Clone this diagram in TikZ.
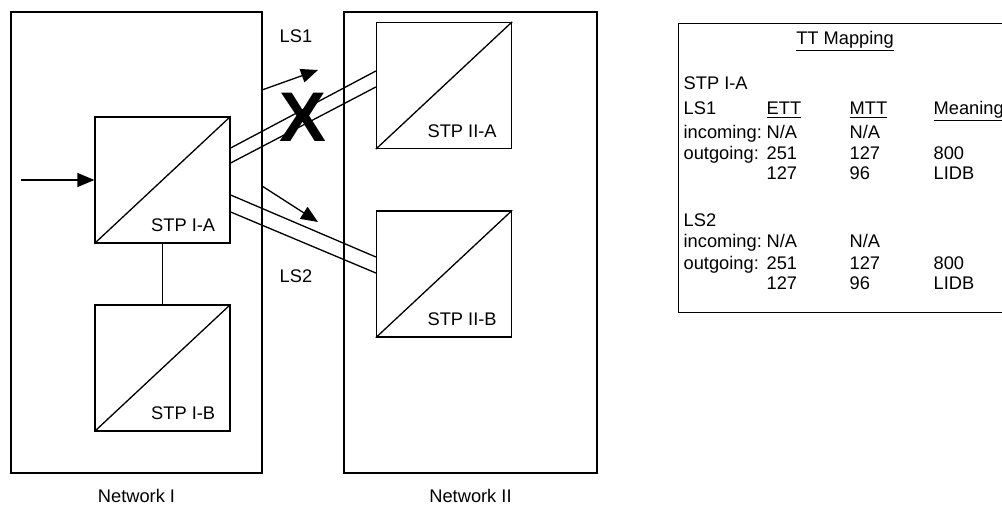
\documentclass[tikz,border=0pt]{standalone}
\usepackage{fontspec}
\setmainfont{Liberation Sans}
\usetikzlibrary{calc,arrows.meta}
\tikzset{
  stpbox/.style={draw,minimum width=2.7cm,minimum height=2.52cm,inner sep=0pt},
  netbox/.style={draw,minimum height=9.22cm,inner sep=0pt},
  tip/.style={-{Triangle[length=0.34cm,width=0.28cm]}}
}
\newcommand{\stp}[4]% #1=node name, #2=x, #3=y, #4=text
{\node[stpbox] (#1) at (#2,#3) {};
\draw (#1.south west)--(#1.north east);
\node[anchor=base east] (#1-text) at ($(#1.south east)+(-9,-12)$) {#4};}

\begin{document}
\begin{tikzpicture}[x=0.02cm,y=-0.02cm,line width=0.75pt,font=\fontsize{10.4}{12}\selectfont]
        \useasboundingbox (0,0) rectangle (1002,506);
        \clip (0,0) rectangle (1002,506);
        % networks
        \node[netbox,minimum width=5.02cm,label={[inner sep=0.5pt,label distance=0.28cm]below:Network I}] (netI) at (136.5,242.5) {};
        \node[netbox,minimum width=5.06cm,label={[inner sep=0.5pt,label distance=0.28cm]below:Network II}] (netII) at (470.5,242.5) {};
        % STPs
        \stp{stpIA}{162.5}{180}{STP I-A}
        \stp{stpIB}{162.5}{368}{STP I-B}
        \stp{stpIIA}{444}{85.5}{STP II-A}
        \stp{stpIIB}{444}{274}{STP II-B}
        \draw (stpIA)--(stpIB);
        \coordinate (in) at (21,180);
        \draw[tip] (in)--(stpIA.west);
        % link sets
        \draw ($(stpIA.east)+(0,-32)$)--($(stpIIA.west)+(0,-14.5)$);
        \draw ($(stpIA.east)+(0,-17)$)--($(stpIIA.west)+(0,1.5)$);
        \draw ($(stpIA.east)+(0,15)$)--($(stpIIB.west)+(0,-17)$);
        \draw ($(stpIA.east)+(0,32)$)--($(stpIIB.west)+(0,-1)$);
        \coordinate (ls1a) at (262,90);
        \coordinate (ls1b) at (318,70);
        \coordinate (ls2a) at (262,186);
        \coordinate (ls2b) at (318,222);
        \draw[tip] (ls1a)--(ls1b);
        \draw[tip] (ls2a)--(ls2b);
        \node (ls1) at (296,36) {LS1};
        \node (ls2) at (296,276) {LS2};
        \node[font=\fontsize{40}{40}\selectfont\bfseries] (cross) at (303,117) {X};
        % mapping table
        \node[draw,anchor=north west,minimum width=6.68cm,minimum height=5.78cm] (ttmap) at (678,23) {};
        \node[anchor=base] (tthead) at (845,44.5) {\underline{TT Mapping}};
        \foreach \y/\a/\b/\c/\d [count=\i] in {89.5/STP I-A///,
            114.5/LS1/\underline{ETT}/\underline{MTT}/\underline{Meaning},
            138.5/incoming:/N\slash A/N\slash A/,
            159.5/outgoing:/251/127/800,
            179.5//127/96/LIDB,
            226.5/LS2///,
            247.5/incoming:/N\slash A/N\slash A/,
            269.5/outgoing:/251/127/800,
            289.5//127/96/LIDB}
        {
          \node[anchor=base west,inner sep=0pt] (row\i a) at (683,\y) {\a};
          \node[anchor=base west,inner sep=0pt] (row\i b) at (766,\y) {\b};
          \node[anchor=base west,inner sep=0pt] (row\i c) at (849,\y) {\c};
          \node[anchor=base west,inner sep=0pt] (row\i d) at (933,\y) {\d};
        }
\end{tikzpicture}
\end{document}
